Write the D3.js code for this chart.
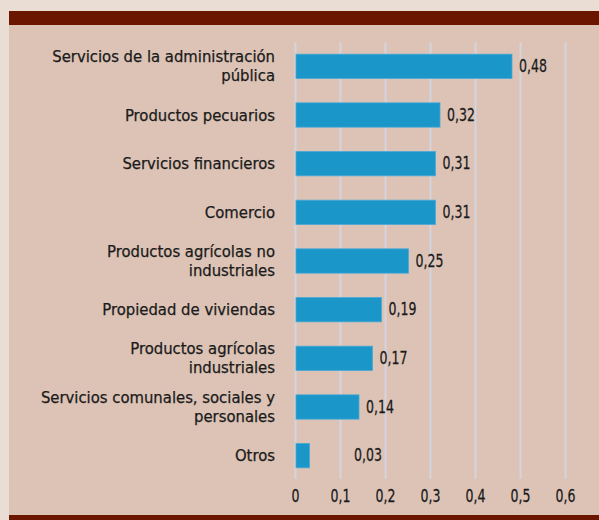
<!DOCTYPE html>
<html><head><meta charset="utf-8">
<script src="https://cdn.jsdelivr.net/npm/d3@7/dist/d3.min.js"></script>
<style>
html,body{margin:0;padding:0;background:#eaddd3;}
svg{display:block;}
text{font-family:"DejaVu Sans Condensed","DejaVu Sans",sans-serif;font-stretch:condensed;fill:#1a1a1a;stroke:#1a1a1a;stroke-width:0.25px;}
</style></head>
<body>
<svg id="chart" width="599" height="520"></svg>
<script>
const categories = [
  ["Servicios de la administración", "pública"],
  ["Productos pecuarios"],
  ["Servicios financieros"],
  ["Comercio"],
  ["Productos agrícolas no", "industriales"],
  ["Propiedad de viviendas"],
  ["Productos agrícolas", "industriales"],
  ["Servicios comunales, sociales y", "personales"],
  ["Otros"]
];
const values = [0.48, 0.32, 0.31, 0.31, 0.25, 0.19, 0.17, 0.14, 0.03];
const valueLabels = ["0,48", "0,32", "0,31", "0,31", "0,25", "0,19", "0,17", "0,14", "0,03"];
const tickValues = [0, 0.1, 0.2, 0.3, 0.4, 0.5, 0.6];
const tickLabels = ["0", "0,1", "0,2", "0,3", "0,4", "0,5", "0,6"];

const svg = d3.select("#chart");
const W = 599, H = 520;
const numScale = 0.82;

svg.append("rect").attr("x", 0).attr("y", 0).attr("width", W).attr("height", H).attr("fill", "#eaddd3");
svg.append("rect").attr("x", 9).attr("y", 11).attr("width", W - 9).attr("height", H - 11).attr("fill", "#dcc3b6");
svg.append("rect").attr("x", 9).attr("y", 11).attr("width", W - 9).attr("height", 14).attr("fill", "#6b1600");
svg.append("rect").attr("x", 9).attr("y", 515).attr("width", W - 9).attr("height", 5).attr("fill", "#6b1600");

const x = d3.scaleLinear().domain([0, 0.6]).range([295.5, 565.5]);
const idx = d3.range(values.length);
const y = d3.scaleBand().domain(idx).range([42, 480]).paddingInner(0.5).paddingOuter(0.25);

// gridlines
svg.append("g").selectAll("line").data(tickValues).join("line")
  .attr("x1", d => x(d)).attr("x2", d => x(d))
  .attr("y1", 42).attr("y2", 479)
  .attr("stroke", "#d4d4db").attr("stroke-width", 2);

// tick labels
svg.append("g").selectAll("text").data(tickValues).join("text")
  .attr("transform", d => `translate(${x(d)},502) scale(${numScale},1)`)
  .attr("text-anchor", "middle").attr("font-size", 17)
  .text((d, i) => tickLabels[i]);

// bars
svg.append("g").selectAll("rect").data(values).join("rect")
  .attr("x", x(0) + 0.5).attr("y", (d, i) => y(i))
  .attr("width", d => x(d) - x(0)).attr("height", y.bandwidth())
  .attr("fill", "#1a96c9").attr("stroke", "#4aa9d6").attr("stroke-width", 0.8);

// value labels
svg.append("g").selectAll("text").data(values).join("text")
  .attr("transform", (d, i) => `translate(${Math.max(x(d) + 7.5, 354)},${y(i) + y.bandwidth() / 2 + 5.5}) scale(${numScale},1)`)
  .attr("font-size", 17)
  .text((d, i) => valueLabels[i]);

// category labels
const lab = svg.append("g").selectAll("text").data(categories).join("text")
  .attr("text-anchor", "end").attr("font-size", 16.5)
  .attr("y", (d, i) => y(i) + y.bandwidth() / 2 + 5.5 - (d.length - 1) * 9.5);
lab.selectAll("tspan").data(d => d).join("tspan")
  .attr("x", 275).attr("dy", (d, j) => j === 0 ? 0 : 19)
  .text(d => d);
</script>
</body></html>
